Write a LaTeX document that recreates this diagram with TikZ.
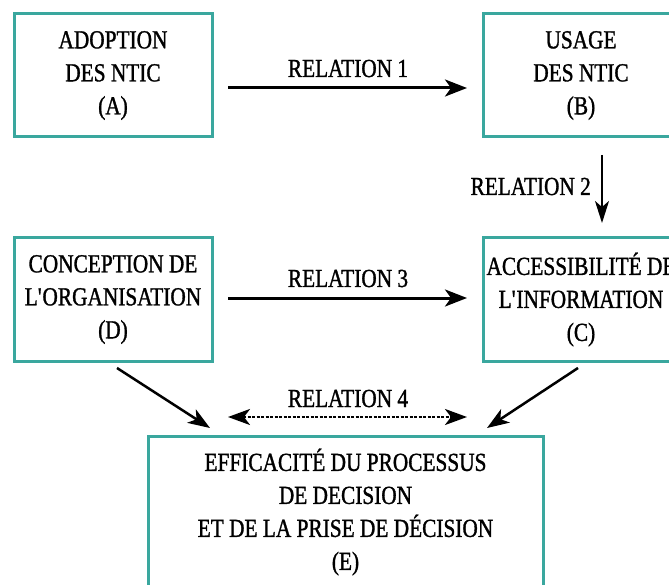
\documentclass[tikz,border=0pt]{standalone}
\usepackage{fontspec}
\setmainfont{Liberation Serif}[FakeStretch=0.82,FakeBold=1.2]
\usetikzlibrary{arrows.meta}
\definecolor{boxteal}{HTML}{3AA79E}
\begin{document}
\begin{tikzpicture}[x=1pt,y=-1pt,
  box/.style={draw=boxteal,line width=3pt,rectangle,align=center,inner sep=0pt,
    font=\fontsize{26}{33}\selectfont},
  lbl/.style={font=\fontsize{26}{30}\selectfont,inner sep=0pt},
  arr/.style={line width=3pt,-{Stealth[length=22pt,width=17pt,inset=6pt]}},
  thinarr/.style={line width=2pt,-{Stealth[length=22pt,width=14pt,inset=6pt]}},
  diagarr/.style={line width=2.5pt,-{Stealth[length=22pt,width=16pt,inset=6pt]}},
  dbl/.style={line width=2.5pt,dash pattern=on 3pt off 1.5pt,
    {Stealth[length=22pt,width=16pt,inset=6pt]}-{Stealth[length=22pt,width=16pt,inset=6pt]}}]
\useasboundingbox (0,0) rectangle (669,585);
\clip (0,0) rectangle (669,585);
\fill[white] (0,0) rectangle (669,585);

\node[box,minimum width=198pt,minimum height=123pt] (A) at (113,75.5) {ADOPTION\\DES NTIC\\(A)};
\node[box,minimum width=196pt,minimum height=123pt] (B) at (581,75.5) {USAGE\\DES NTIC\\(B)};
\node[box,minimum width=198pt,minimum height=123pt] (D) at (113,299.5) {CONCEPTION DE\\L\textquotesingle ORGANISATION\\(D)};
\node[box,minimum width=196pt,minimum height=123pt] (C) at (581,299.5) {ACCESSIBILIT\'E DE\\L\textquotesingle INFORMATION\\(C)};
\node[box,minimum width=395pt,minimum height=152pt] (E) at (345.5,512)
  {EFFICACIT\'E DU PROCESSUS\\DE DECISION\\ET DE LA PRISE DE D\'ECISION\\(E)};

\coordinate (a1) at (228,88);
\coordinate (b1) at (467,88);
\coordinate (b2) at (602,155);
\coordinate (c2) at (602,223);
\coordinate (d3) at (228,298);
\coordinate (c3) at (467,298);
\coordinate (d4) at (117,368);
\coordinate (e4) at (210,428);
\coordinate (c5) at (578,368);
\coordinate (e5) at (487,428);
\coordinate (l6) at (228,417);
\coordinate (r6) at (467,417);

\draw[arr] (a1) -- (b1);
\draw[thinarr] (b2) -- (c2);
\draw[arr] (d3) -- (c3);
\draw[diagarr] (d4) -- (e4);
\draw[diagarr] (c5) -- (e5);
\draw[dbl] (l6) -- (r6);

\node[lbl,anchor=base] (r1) at (348,77) {RELATION 1};
\node[lbl,anchor=base east] (r2) at (591,195) {RELATION 2};
\node[lbl,anchor=base] (r3) at (348,287) {RELATION 3};
\node[lbl,anchor=base] (r4) at (348,407) {RELATION 4};
\end{tikzpicture}
\end{document}
